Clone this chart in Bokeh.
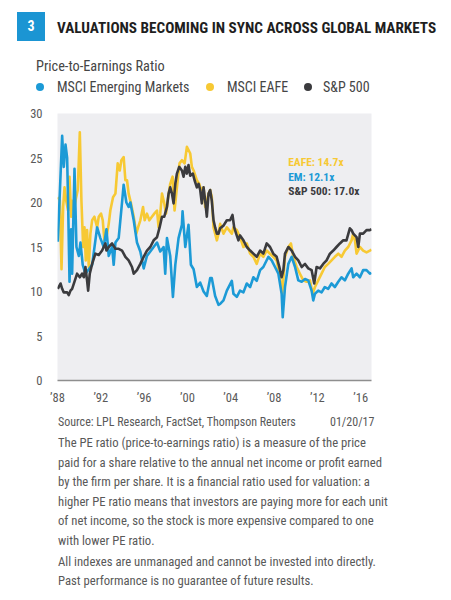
from bokeh.plotting import figure
from bokeh.layouts import column
from bokeh.models import Range1d, FixedTicker, Label, Div
from bokeh.embed import file_html
from bokeh.resources import INLINE

# ---------------- data ----------------
em_years = [1988.03, 1988.43, 1988.58, 1988.74, 1988.89, 1988.98, 1989.11, 1989.26, 1989.35, 1989.57,
            1989.75, 1989.97, 1990.12, 1990.33, 1990.58, 1990.89, 1991.20, 1991.66, 1991.96, 1992.27,
            1992.52, 1992.73, 1993.04, 1993.19, 1993.35, 1993.65, 1993.96, 1994.11, 1994.36, 1994.57,
            1994.73, 1995.04, 1995.34, 1995.65, 1995.96, 1996.26, 1996.57, 1996.88, 1997.19, 1997.49,
            1997.80, 1997.95, 1998.11, 1998.41, 1998.66, 1998.88, 1999.18, 1999.49, 1999.55, 1999.80,
            2000.10, 2000.32, 2000.57, 2000.87, 2001.18, 2001.49, 2001.79, 2002.10, 2002.25, 2002.56,
            2002.87, 2003.02, 2003.33, 2003.64, 2004.10, 2004.25, 2004.56, 2004.86, 2005.17, 2005.48,
            2005.79, 2006.09, 2006.40, 2006.71, 2007.01, 2007.48, 2007.78, 2008.09, 2008.40, 2008.70,
            2008.80, 2009.01, 2009.32, 2009.63, 2009.94, 2010.24, 2010.55, 2010.86, 2011.16, 2011.47,
            2011.62, 2011.78, 2012.08, 2012.39, 2012.69, 2013.00, 2013.31, 2013.62, 2013.93, 2014.23,
            2014.54, 2014.85, 2015.16, 2015.31, 2015.62, 2015.93, 2016.23, 2016.54, 2016.85, 2017.00]
em_pe = [15.6, 27.5, 24.0, 26.5, 25.0, 20.0, 11.1, 17.0, 12.0, 23.8,
         15.0, 14.0, 15.5, 13.0, 12.0, 12.5, 13.0, 17.2, 16.0, 15.0,
         17.0, 14.0, 15.0, 13.0, 15.5, 16.0, 20.0, 22.0, 20.0, 19.5,
         20.0, 18.0, 15.5, 14.5, 12.6, 14.0, 14.5, 15.0, 15.5, 14.5,
         15.0, 12.0, 16.0, 14.0, 9.4, 13.0, 16.0, 17.5, 19.0, 15.0,
         17.5, 13.0, 12.5, 10.5, 11.0, 10.0, 9.5, 11.5, 11.5, 9.5,
         8.5, 8.6, 9.0, 10.1, 11.2, 9.75, 9.4, 10.1, 9.9, 10.9,
         10.5, 11.6, 11.2, 12.4, 12.75, 13.9, 13.5, 12.75, 12.0, 9.75,
         7.1, 10.5, 13.1, 13.9, 12.75, 11.25, 11.1, 11.4, 11.25, 10.1,
         9.0, 9.75, 10.1, 9.9, 10.5, 10.3, 10.9, 10.5, 11.1, 11.6,
         11.25, 12.0, 12.6, 11.6, 12.0, 11.6, 12.4, 12.4, 12.0, 12.1]

eafe_years = [1988.03, 1988.22, 1988.37, 1988.52, 1988.65, 1988.80, 1988.98, 1989.11, 1989.26, 1989.35,
              1989.51, 1989.66, 1989.87, 1990.06, 1990.21, 1990.37, 1990.49, 1990.61, 1990.73, 1990.89,
              1991.04, 1991.20, 1991.41, 1991.66, 1991.81, 1992.02, 1992.18, 1992.33, 1992.58, 1992.73,
              1992.88, 1993.13, 1993.35, 1993.56, 1993.75, 1993.90, 1994.11, 1994.27, 1994.42, 1994.57,
              1994.79, 1995.04, 1995.28, 1995.44, 1995.65, 1995.90, 1996.05, 1996.26, 1996.48, 1996.72,
              1996.94, 1997.19, 1997.34, 1997.49, 1997.65, 1997.86, 1998.02, 1998.17, 1998.41, 1998.63,
              1998.81, 1999.03, 1999.27, 1999.49, 1999.74, 1999.95, 2000.10, 2000.26, 2000.41, 2000.57,
              2000.87, 2001.09, 2001.27, 2001.49, 2001.64, 2001.79, 2001.95, 2002.10, 2002.25, 2002.41,
              2002.56, 2002.72, 2002.87, 2003.02, 2003.33, 2003.64, 2004.10, 2004.25, 2004.56, 2004.86,
              2005.17, 2005.48, 2005.79, 2006.09, 2006.40, 2006.71, 2007.01, 2007.32, 2007.63, 2007.93,
              2008.24, 2008.55, 2008.76, 2009.01, 2009.32, 2009.56, 2009.78, 2010.09, 2010.39, 2010.70,
              2011.01, 2011.32, 2011.56, 2011.78, 2012.08, 2012.39, 2012.69, 2013.00, 2013.31, 2013.62,
              2013.93, 2014.23, 2014.54, 2014.85, 2015.16, 2015.31, 2015.47, 2015.62, 2015.93, 2016.23,
              2016.54, 2016.85, 2017.00]
eafe_pe = [20.6, 20.2, 12.5, 19.5, 21.7, 20.2, 19.1, 22.9, 18.4, 20.2,
           19.1, 20.2, 21.4, 27.9, 20.2, 15.0, 17.2, 13.5, 16.9, 12.75,
           16.5, 18.0, 18.4, 17.2, 18.4, 18.75, 18.0, 15.75, 16.5, 17.6,
           19.1, 20.6, 21.0, 24.4, 23.6, 24.75, 25.1, 22.5, 22.5, 21.0,
           19.9, 18.4, 16.5, 17.2, 18.0, 19.5, 18.0, 18.75, 18.0, 18.4,
           18.75, 19.1, 17.2, 18.75, 21.0, 19.9, 18.75, 20.2, 22.1, 22.9,
           19.1, 21.7, 24.4, 24.75, 24.4, 26.25, 25.9, 25.5, 24.0, 23.6,
           22.5, 22.1, 21.4, 21.7, 19.5, 20.2, 21.0, 21.4, 20.6, 17.2,
           16.5, 15.75, 16.5, 17.6, 16.5, 17.2, 16.5, 17.2, 16.9, 16.1,
           15.0, 15.4, 14.25, 13.9, 13.1, 14.25, 13.9, 14.6, 14.25, 13.9,
           13.5, 11.6, 9.75, 13.9, 15.0, 15.4, 13.9, 12.75, 12.0, 11.25,
           11.1, 11.25, 9.75, 10.5, 11.25, 12.0, 12.75, 13.1, 13.5, 13.9,
           14.25, 13.9, 14.6, 15.0, 15.75, 16.5, 15.75, 14.25, 15.0, 14.6,
           14.4, 14.6, 14.7]

spx_years = [1988.03, 1988.28, 1988.43, 1988.58, 1988.89, 1989.04, 1989.20, 1989.35, 1989.57, 1989.81,
             1990.06, 1990.27, 1990.43, 1990.58, 1990.73, 1990.83, 1990.98, 1991.20, 1991.50, 1991.81,
             1992.12, 1992.42, 1992.52, 1992.73, 1993.04, 1993.35, 1993.65, 1993.96, 1994.27, 1994.57,
             1994.88, 1995.04, 1995.34, 1995.65, 1995.96, 1996.26, 1996.57, 1996.88, 1997.19, 1997.43,
             1997.65, 1997.86, 1998.11, 1998.26, 1998.41, 1998.57, 1998.72, 1998.88, 1999.03, 1999.24,
             1999.49, 1999.64, 1999.80, 1999.95, 2000.10, 2000.26, 2000.50, 2000.66, 2000.87, 2001.03,
             2001.18, 2001.33, 2001.49, 2001.64, 2001.79, 2001.95, 2002.10, 2002.25, 2002.41, 2002.56,
             2002.72, 2002.87, 2003.02, 2003.33, 2003.64, 2003.94, 2004.16, 2004.32, 2004.50, 2004.71,
             2004.86, 2005.17, 2005.48, 2005.79, 2006.09, 2006.40, 2006.71, 2007.01, 2007.32, 2007.63,
             2007.93, 2008.24, 2008.49, 2008.70, 2008.86, 2009.01, 2009.32, 2009.63, 2009.94, 2010.24,
             2010.55, 2010.86, 2011.16, 2011.47, 2011.71, 2011.93, 2012.24, 2012.54, 2012.85, 2013.16,
             2013.47, 2013.77, 2014.08, 2014.39, 2014.69, 2015.00, 2015.16, 2015.31, 2015.62, 2015.78,
             2015.93, 2016.23, 2016.54, 2016.85, 2017.00]
spx_pe = [10.3, 10.9, 10.3, 9.9, 9.9, 9.6, 10.1, 10.3, 11.1, 12.0,
          11.6, 12.0, 11.6, 12.75, 11.25, 10.1, 12.0, 13.1, 14.25, 14.1,
          14.6, 15.4, 14.6, 15.0, 15.4, 14.8, 14.8, 14.6, 13.9, 13.5,
          12.75, 12.0, 12.4, 13.1, 13.9, 14.6, 15.0, 15.75, 16.1, 17.2,
          18.4, 18.4, 19.5, 21.0, 21.7, 21.0, 19.9, 22.1, 23.25, 24.0,
          23.6, 22.9, 24.0, 23.25, 24.2, 23.0, 23.25, 22.5, 21.7, 22.1,
          21.4, 19.9, 21.7, 20.2, 18.4, 21.0, 21.4, 20.2, 18.0, 17.2,
          16.5, 16.5, 17.1, 17.4, 18.0, 18.0, 18.6, 17.2, 16.5, 15.75,
          16.3, 15.75, 15.0, 14.6, 14.25, 13.9, 14.6, 14.25, 15.4, 15.0,
          14.25, 13.9, 12.75, 11.6, 12.4, 14.25, 15.0, 14.6, 13.9, 13.5,
          12.75, 13.1, 12.6, 12.4, 10.9, 12.75, 12.6, 13.1, 13.5, 14.25,
          14.6, 15.0, 15.4, 15.75, 15.75, 17.1, 16.9, 16.5, 16.1, 15.0,
          16.5, 16.5, 16.9, 16.9, 17.0]

tick_years = [1988, 1992, 1996, 2000, 2004, 2008, 2012, 2016]
tick_labels = ["\u201988", "\u201992", "\u201996", "\u201900", "\u201904", "\u201908", "\u201912", "\u201916"]
y_ticks = [0, 5, 10, 15, 20, 25, 30]

series_names = ["MSCI Emerging Markets", "MSCI EAFE", "S&P 500"]
latest_labels = ["EAFE: 14.7x", "EM: 12.1x", "S&P 500: 17.0x"]
chart_number = "3"
chart_title = "VALUATIONS BECOMING IN SYNC ACROSS GLOBAL MARKETS"
y_title = "Price-to-Earnings Ratio"
source_text = "Source: LPL Research, FactSet, Thompson Reuters"
source_date = "01/20/17"
foot_lines = [
    "The PE ratio (price-to-earnings ratio) is a measure of the price",
    "paid for a share relative to the annual net income or profit earned",
    "by the firm per share. It is a financial ratio used for valuation: a",
    "higher PE ratio means that investors are paying more for each unit",
    "of net income, so the stock is more expensive compared to one",
    "with lower PE ratio.",
    "All indexes are unmanaged and cannot be invested into directly.",
    "Past performance is no guarantee of future results.",
]

# ---------------- styles / layout ----------------
BLUE = "#1C9AD6"
YELLOW = "#F7C934"
DARK = "#3B3B3E"
BG = "#EEEEF1"
GREY_TXT = "#595959"
FONT = "Roboto Condensed"
W = 451
HEAD_H, MAIN_H = 100, 312
FOOT_H = 600 - HEAD_H - MAIN_H


def txt(left, cy, text, size, color, bold=False, lh=18):
    return ('<div style="position:absolute;left:%spx;top:%spx;line-height:%spx;font-size:%s;'
            'color:%s;font-weight:%s;white-space:nowrap;font-family:\'%s\';">%s</div>'
            % (left, cy - lh / 2, lh, size, color, "bold" if bold else "normal", FONT, text))


# ---------- header (HTML text) ----------
head = ['<div style="position:relative;width:%dpx;height:%dpx;font-family:\'%s\';">' % (W, HEAD_H, FONT)]
head.append('<div style="position:absolute;left:17px;top:12px;width:28px;height:29px;background:#1B95D3;'
            'color:white;font-weight:bold;font-size:14px;line-height:29px;text-align:center;'
            'font-family:\'%s\';">%s</div>' % (FONT, chart_number))
head.append(txt(57, 27.5, chart_title, "15.2px", "#1E1E1E", bold=True))
head.append(txt(36, 66, y_title, "14.3px", "#454545"))
for dot_x, col, tx, name in zip([40, 210, 308], [BLUE, YELLOW, DARK], [57, 227, 323], series_names):
    head.append('<div style="position:absolute;left:%dpx;top:83px;width:8px;height:8px;'
                'border-radius:50%%;background:%s;"></div>' % (dot_x - 4, col))
    head.append(txt(tx, 87, name, "14px", "#454545"))
head.append('</div>')
header = Div(text="".join(head), width=W, height=HEAD_H, margin=0)

# ---------- main chart ----------
p = figure(width=W, height=MAIN_H, x_range=Range1d(1988, 2017), y_range=Range1d(0, 30),
           min_border_left=57, min_border_right=80, min_border_top=13,
           min_border_bottom=MAIN_H - 13 - 267,
           output_backend="svg", toolbar_location=None,
           background_fill_color=BG, border_fill_color="white")
p.grid.visible = False
p.outline_line_color = None

p.line(eafe_years, eafe_pe, line_color=YELLOW, line_width=2.6, line_join="round")
p.line(em_years, em_pe, line_color=BLUE, line_width=2.6, line_join="round")
p.line(spx_years, spx_pe, line_color=DARK, line_width=2.6, line_join="round")

p.xaxis.ticker = FixedTicker(ticks=tick_years)
p.xaxis.major_label_overrides = {t: l for t, l in zip(tick_years, tick_labels)}
p.yaxis.ticker = FixedTicker(ticks=y_ticks)
for ax in (p.xaxis[0], p.yaxis[0]):
    ax.major_tick_line_color = None
    ax.minor_tick_line_color = None
    ax.major_label_text_font = FONT
    ax.major_label_text_font_size = "12.5px"
    ax.major_label_text_color = GREY_TXT
p.xaxis.axis_line_color = "#8E8E8E"
p.xaxis.axis_line_width = 1.5
p.xaxis.major_label_standoff = 3
p.yaxis.axis_line_color = None
p.yaxis.major_label_standoff = 9

# latest values, placed in screen px inside the plot area
for t, col, dy in zip(latest_labels, [YELLOW, BLUE, DARK], [218.3, 203.3, 189.3]):
    p.add_layout(Label(x=230.7, y=dy, x_units="screen", y_units="screen", text=t,
                       text_color=col, text_font=FONT, text_font_style="bold",
                       text_font_size="11.5px", text_baseline="middle"))

# ---------- footer (HTML text) ----------
foot = ['<div style="position:relative;width:%dpx;height:%dpx;font-family:\'%s\';">' % (W, FOOT_H, FONT)]
top0 = HEAD_H + MAIN_H
foot.append(txt(58, 422 - top0, source_text, "12px", GREY_TXT))
foot.append(txt(330, 422 - top0, source_date, "12px", GREY_TXT))
for ln, py in zip(foot_lines, [443, 463, 482, 502, 521, 541, 562, 581]):
    foot.append(txt(58, py - top0, ln, "12.7px", GREY_TXT))
foot.append('</div>')
footer = Div(text="".join(foot), width=W, height=FOOT_H, margin=0)

layout = column(header, p, footer, spacing=0)
open("out.html", "w").write(file_html(layout, INLINE))
